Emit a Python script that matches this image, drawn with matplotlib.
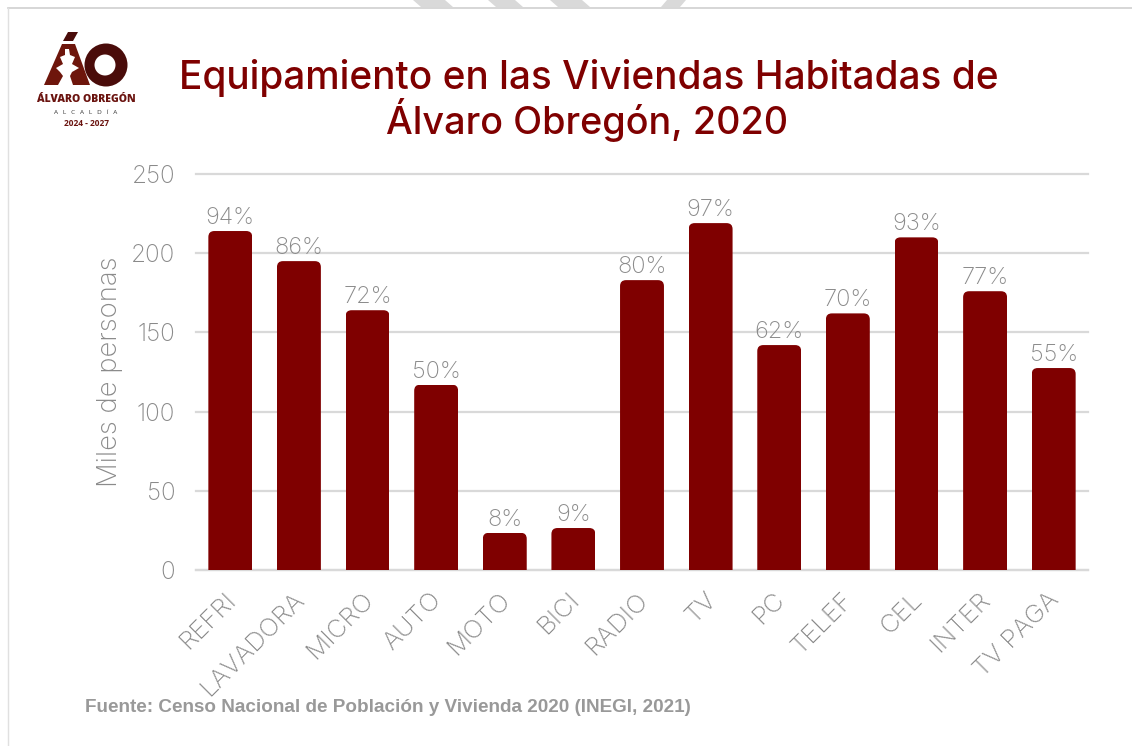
import matplotlib
matplotlib.use('Agg')
import matplotlib.pyplot as plt
from matplotlib.patches import Circle, FancyBboxPatch, Polygon
from matplotlib.transforms import Affine2D

categorias = ['REFRI', 'LAVADORA', 'MICRO', 'AUTO', 'MOTO', 'BICI', 'RADIO',
              'TV', 'PC', 'TELEF', 'CEL', 'INTER', 'TV PAGA']
viviendas = [214, 195, 164, 117, 23.5, 26.5, 183, 219, 142, 162, 210, 176, 127.5]
porcentajes = ['94%', '86%', '72%', '50%', '8%', '9%', '80%', '97%', '62%',
               '70%', '93%', '77%', '55%']
marcas_y = [0, 50, 100, 150, 200, 250]

GUINDA = '#7f0000'
GRIS = '#8a8a8a'
W, H = 1132, 746


def dibuja_fondo(fig):
    """Marco de la captura, franjas superiores y logotipo, en pixeles"""
    bg = fig.add_axes([0, 0, 1, 1])
    bg.set_xlim(0, W)
    bg.set_ylim(H, 0)
    bg.axis('off')

    for x0, x1, d in [(413, 445, 8), (488, 515, 8), (550, 582, 8), (667, 686, -6)]:
        bg.add_patch(Polygon([(x0, 0), (x1, 0), (x1 + d, 7), (x0 + d, 7)], color='#d9d9d9', lw=0))
    bg.plot([7.5, W], [7.5, 7.5], color='#cfcfcf', lw=1.2)
    bg.plot([7.5, 7.5], [7.5, H], color='#e0e0e0', lw=1.0)

    # logotipo
    bg.add_patch(Polygon([(63, 41), (68, 32), (78, 32), (73, 41)], color='#4a0c0a', lw=0))
    bg.add_patch(Circle((106, 65), 21.5, color='#4a0c0a', lw=0))
    bg.add_patch(Circle((105, 65), 10.5, color='white', lw=0))
    bg.add_patch(Polygon([(44, 85), (62, 44), (75, 44), (90, 85)], color='#6e160c', lw=0))
    bg.add_patch(Polygon([(65, 49), (69, 49), (70, 55), (75, 57), (72, 64), (79, 68),
                          (72, 72), (70, 76), (73, 85), (58, 85), (63, 76), (60, 72),
                          (56, 68), (63, 64), (60, 57), (65, 55)], color='white', lw=0))
    bg.text(86, 99, 'ÁLVARO OBREGÓN', fontsize=7.6, fontweight='heavy', family='Open Sans',
            color='#6b1410', ha='center', va='center')
    bg.text(86, 112, 'A   L   C   A   L   D   Í   A', fontsize=4.6, family='Open Sans',
            color='#333333', ha='center', va='center')
    bg.text(86, 123.5, '2024 - 2027', fontsize=6, fontweight='bold', family='Open Sans',
            color='#6b1410', ha='center', va='center')

    bg.text(589, 78, 'Equipamiento en las Viviendas Habitadas de', fontsize=27.9,
            family='Inter', fontweight='medium', color=GUINDA, ha='center', va='center')
    bg.text(587, 120, 'Álvaro Obregón, 2020', fontsize=27.2,
            family='Inter', fontweight='medium', color=GUINDA, ha='center', va='center')
    bg.text(85, 708, 'Fuente: Censo Nacional de Población y Vivienda 2020 (INEGI, 2021)',
            fontsize=13.6, family='Liberation Sans', fontweight='bold', color='#999999',
            ha='left', va='center')


def main():
    fig = plt.figure(figsize=(W / 100, H / 100), dpi=100, facecolor='white')
    dibuja_fondo(fig)

    left, right, top, bottom = 196, 1088, 174, 570
    ax = fig.add_axes([left / W, 1 - bottom / H, (right - left) / W, (bottom - top) / H])
    ax.patch.set_alpha(0)
    x = list(range(len(categorias)))
    ancho = 0.64
    bars = ax.bar(x, viviendas, width=ancho, color=GUINDA, zorder=3)

    ax.set_xlim(-0.5, len(categorias) - 0.5)
    ax.set_ylim(0, 250)

    # esquinas superiores redondeadas
    px_x = (right - left) / len(categorias)
    px_y = (bottom - top) / 250
    rad = 6 / px_x
    for b, v in zip(bars, viviendas):
        redondeo = FancyBboxPatch((b.get_x() + rad, -30), ancho - 2 * rad, v + 30 - rad * px_x / px_y,
                                  boxstyle='round,pad=%f,rounding_size=%f' % (rad, rad),
                                  mutation_aspect=px_x / px_y, transform=ax.transData)
        b.set_clip_path(redondeo)

    for xi, v, p in zip(x, viviendas, porcentajes):
        ax.annotate(p, (xi, v), xytext=(0, 1.5), textcoords='offset points', ha='center', va='bottom',
                    fontsize=17, family='Inter', fontweight='light', color=GRIS, zorder=4)

    ax.set_yticks(marcas_y)
    ax.set_xticks(x)
    ax.set_xticklabels(categorias, rotation=45, ha='right', rotation_mode='anchor')
    ax.tick_params(length=0)
    ax.tick_params(axis='y', pad=15)
    ax.tick_params(axis='x', pad=13)
    for t in ax.get_yticklabels():
        t.set(fontsize=17.5, family='Inter', fontweight='light', color=GRIS)
    for t in ax.get_xticklabels():
        t.set(fontsize=18.5, family='Inter', fontweight='light', color=GRIS)
        t.set_transform(t.get_transform() + Affine2D().translate(-6, 0))

    ax.set_ylabel('Miles de personas', fontsize=19.8, family='Inter', fontweight='light',
                  color=GRIS, labelpad=6)
    ax.grid(axis='y', color='#d9d9d9', lw=1.6, zorder=0)
    ax.set_axisbelow(True)
    for s in ['top', 'right', 'left']:
        ax.spines[s].set_visible(False)
    ax.spines['bottom'].set_color('#d9d9d9')
    ax.spines['bottom'].set_linewidth(1.6)
    for line in ax.get_ygridlines():
        line.set_clip_on(False)

    fig.savefig('out.png', dpi=100)


if __name__ == '__main__':
    main()
